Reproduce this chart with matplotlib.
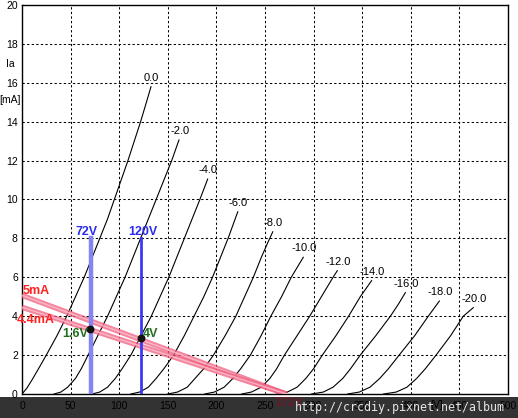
import matplotlib
matplotlib.use("Agg")
import matplotlib.pyplot as plt
from matplotlib.patches import Rectangle

# ---------------- data ----------------
grid_labels = ["0.0", "-2.0", "-4.0", "-6.0", "-8.0", "-10.0",
               "-12.0", "-14.0", "-16.0", "-18.0", "-20.0"]

curve_v = [
    [0, 5, 10, 17, 25, 36, 46, 55, 64, 72, 80, 88, 95, 102, 109, 115.5, 122, 128, 132.7],
    [33, 40, 47, 55, 61, 68, 78, 88, 97, 106, 114, 122, 130, 138, 146, 154, 161.5],
    [72, 80, 88, 96, 103, 112, 122, 133, 142, 151, 159, 167, 175, 183, 191],
    [112, 121, 130, 138, 146, 156, 167, 177, 187, 196, 204, 212, 222],
    [150, 160, 170, 178, 187, 197, 209, 220, 229, 238, 246, 253, 258],
    [188, 198, 208, 217, 225, 235, 246, 256, 267, 277, 289.4],
    [226, 236, 246, 255, 262, 270, 283, 296, 308, 320, 324.4],
    [262, 273, 283, 292, 300, 309, 323, 336, 348, 359.7],
    [298, 310, 320, 330, 338, 348, 364, 379, 387, 394.4],
    [335, 347, 358, 368, 377, 388, 404, 418, 429.4],
    [372, 385, 396, 406, 415, 426, 441, 454, 464.3],
]
curve_i = [
    [0, 0.3, 0.7, 1.3, 2, 3, 4, 5, 6, 7, 8, 9, 10, 11, 12, 13, 14, 15, 15.8],
    [0, 0.1, 0.35, 0.8, 1.3, 2, 3, 4, 5, 6, 7, 8, 9, 10, 11, 12, 13.06],
    [0, 0.1, 0.35, 0.8, 1.3, 2, 2.95, 4, 5, 6, 7, 8, 9, 10, 11.05],
    [0, 0.1, 0.35, 0.8, 1.3, 2, 3, 4, 5, 6, 7, 8, 9.37],
    [0, 0.1, 0.35, 0.8, 1.3, 2, 3, 4, 5, 6, 7, 7.8, 8.34],
    [0, 0.1, 0.35, 0.8, 1.3, 2, 3, 4, 5, 6, 7.03],
    [0, 0.1, 0.35, 0.8, 1.3, 2, 3, 4, 5, 6, 6.34],
    [0, 0.1, 0.35, 0.8, 1.3, 2, 3, 4, 5, 5.83],
    [0, 0.1, 0.35, 0.8, 1.3, 2, 3, 4, 4.6, 5.21],
    [0, 0.1, 0.35, 0.8, 1.3, 2, 3, 4, 4.78],
    [0, 0.1, 0.35, 0.8, 1.3, 2, 3, 4, 4.44],
]

load_v = [0, 272]
load_a_i = [5.07, 0]     # "5mA" line
load_b_i = [4.46, 0]     # "4.4mA" line

vline_v = [70.5, 122]
vline_top = 8
vline_labels = ["72V", "120V"]

op_v = [70.2, 122.3]
op_i = [3.36, 2.86]
op_labels = ["1.6V", "4V"]

x_ticks = list(range(0, 501, 50))
y_ticks = list(range(0, 21, 2))

# ---------------- figure ----------------
W, H = 518, 418
fig = plt.figure(figsize=(W / 100, H / 100), dpi=100)
fig.patch.set_facecolor("white")
L, R, T, B = 22, 508, 5, 394
ax = fig.add_axes([L / W, (H - B) / H, (R - L) / W, (B - T) / H])
ax.set_xlim(0, 500)
ax.set_ylim(0, 20)
for s in ax.spines.values():
    s.set_color("black")
    s.set_linewidth(1.0)

font = "Liberation Sans"
ax.set_xticks(x_ticks)
ax.set_xticklabels([str(t) for t in x_ticks], fontsize=7.5, family=font)
ax.set_yticks(y_ticks)
ax.set_yticklabels([str(t) for t in y_ticks], fontsize=7.5, family=font)
ax.tick_params(axis="x", length=0, pad=5)
ax.tick_params(axis="y", length=0, pad=3)
ax.grid(True, color="black", linestyle=(0, (2.2, 2.2)), linewidth=0.75)
ax.set_axisbelow(True)

# plate curves
for vv, ii, lab in zip(curve_v, curve_i, grid_labels):
    ax.plot(vv, ii, color="black", linewidth=0.8, zorder=3)
    ax.annotate(lab, (vv[-1], ii[-1]), xytext=(0.5, 6.5), textcoords="offset points",
                ha="center", va="center", fontsize=8, family=font, zorder=6)

# load lines
for li in (load_a_i, load_b_i):
    ax.plot(load_v, li, color="#f05c7e", linewidth=3.8, alpha=0.75,
            solid_capstyle="butt", zorder=4)
    ax.plot(load_v, li, color="#fbc0cc", linewidth=1.1, alpha=0.8,
            solid_capstyle="butt", zorder=4)

# vertical voltage markers
ax.plot([vline_v[0]] * 2, [0, vline_top], color="#8585f2", linewidth=3.2, zorder=5)
ax.plot([vline_v[1]] * 2, [0, vline_top], color="#3a3af5", linewidth=2.0, zorder=5)
ax.text(vline_v[0] - 4.5, vline_top + 0.35, vline_labels[0], color="#2b2bf0",
        fontsize=9, fontweight="bold", family=font, ha="center", va="center", zorder=7)
ax.text(vline_v[1] + 2.5, vline_top + 0.35, vline_labels[1], color="#2b2bf0",
        fontsize=9, fontweight="bold", family=font, ha="center", va="center", zorder=7)

# operating points
ax.scatter(op_v, op_i, s=22, color="#111111", zorder=8)
ax.text(op_v[0] - 2, op_i[0] - 0.3, op_labels[0], color="#1e6e1e", fontsize=9,
        fontweight="bold", family=font, ha="right", va="center", zorder=8)
ax.text(op_v[1] + 1.5, op_i[1] + 0.2, op_labels[1], color="#1e6e1e", fontsize=9,
        fontweight="bold", family=font, ha="left", va="center", zorder=8)

# load line labels
ax.text(1, 5.3, "5mA", color="#ff2020", fontsize=9, fontweight="bold", family=font,
        ha="left", va="center", zorder=8, clip_on=False)
ax.text(-5.5, 3.8, "4.4mA", color="#ff2020", fontsize=9, fontweight="bold", family=font,
        ha="left", va="center", zorder=8, clip_on=False)

# axis captions
fig.text(10 / W, 1 - 64 / H, "Ia", fontsize=7.5, family=font, ha="center", va="center")
fig.text(10 / W, 1 - 100 / H, "[mA]", fontsize=7.5, family=font, ha="center", va="center")
fig.text(437 / W, 1 - 404.5 / H, "[V]", fontsize=7.5, family=font, ha="center", va="center")

# watermark band
band = Rectangle((0, 0), 1, (H - 397) / H, transform=fig.transFigure,
                 facecolor="black", alpha=0.8, edgecolor="none", zorder=10)
fig.add_artist(band)
fig.text(289 / W, 1 - 403 / H, "272V", color="#6a1a28", fontsize=8.5, fontweight="bold",
         family=font, ha="center", va="center", zorder=11)
fig.text(400 / W, 1 - 407.5 / H, "http://crcdiy.pixnet.net/album", color="#e6e6e6",
         fontsize=8.4, family="DejaVu Sans Mono", ha="center", va="center", zorder=11)

fig.savefig("out.png", dpi=100, facecolor="white")
